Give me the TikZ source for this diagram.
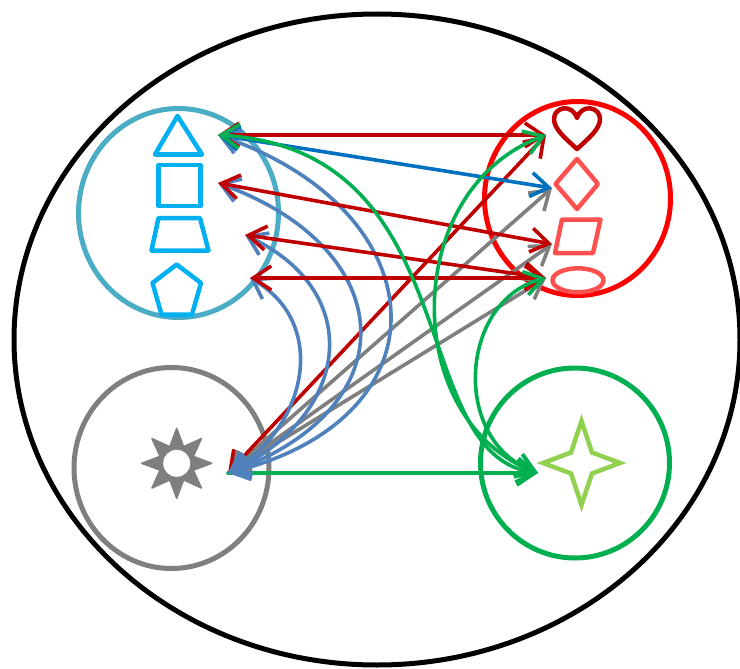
\documentclass[tikz,border=0pt]{standalone}
\usetikzlibrary{arrows.meta}
\definecolor{cBlueCirc}{HTML}{4BACC6}
\definecolor{cBlueShape}{HTML}{00B0F0}
\definecolor{cRedCirc}{HTML}{FF0000}
\definecolor{cDarkRed}{HTML}{C00000}
\definecolor{cPink}{HTML}{FF5050}
\definecolor{cGray}{HTML}{7F7F7F}
\definecolor{cGreen}{HTML}{00B050}
\definecolor{cLime}{HTML}{92D050}
\definecolor{cBlueArr}{HTML}{0070C0}
\definecolor{cSteel}{HTML}{4F81BD}
\tikzset{
  ring/.style={line width=5pt},
  shp/.style={line width=4.5pt, line join=round},
  tipshape/.tip={Straight Barb[length=18pt,width=24pt]},
  arr/.style={line width=3.6pt, line cap=round, tipshape-tipshape},
  arrone/.style={line width=3.6pt, line cap=round, -tipshape},
}
\begin{document}
\begin{tikzpicture}[x=1pt,y=-1pt]
\useasboundingbox (0,0) rectangle (740,669);
\fill[white] (0,0) rectangle (740,669);
% outer ellipse
\draw[line width=5pt] (377,339.5) ellipse [x radius=363pt, y radius=325.5pt];
% group circles
\draw[ring,cBlueCirc] (178.5,213) ellipse [x radius=100pt, y radius=104.5pt];
\draw[ring,cRedCirc] (577.5,198.5) ellipse [x radius=93pt, y radius=97pt];
\draw[ring,cGray] (171.5,468) ellipse [x radius=97.5pt, y radius=100.5pt];
\draw[ring,cGreen] (575,463) ellipse [x radius=94.5pt, y radius=95pt];
% blue shapes
\draw[shp,cBlueShape] (177.5,116) -- (202,154.5) -- (155,154.5) -- cycle;
\draw[shp,cBlueShape] (158.5,165) rectangle (200.5,206);
\draw[shp,cBlueShape] (158.5,218) -- (200,218) -- (208.5,250.5) -- (151.5,250.5) -- cycle;
\draw[shp,cBlueShape] (176.7,264.5) -- (201,283) -- (192,314.5) -- (161.5,314.5) -- (152.5,283) -- cycle;
% red shapes
\draw[shp,cDarkRed] (577,149) .. controls (565,138) and (554,129) .. (554,119)
  .. controls (554,107) and (572,103) .. (577,118)
  .. controls (582,103) and (600,107) .. (600,119)
  .. controls (600,129) and (589,138) .. (577,149) -- cycle;
\draw[shp,cPink] (577,159) -- (598,184) -- (577,209) -- (555.5,184) -- cycle;
\draw[shp,cPink] (562,219.5) -- (600.5,219.5) -- (593,253) -- (555,253) -- cycle;
\draw[shp,cPink] (578,280.3) ellipse [x radius=25.5pt, y radius=12pt];
% sun
\begin{scope}[shift={(176.7,463.3)}]
\filldraw[cGray, line width=1.5pt, line join=round]
  (0:35) -- (22.5:18) -- (45:35) -- (67.5:18) -- (90:35) -- (112.5:18) -- (135:35) -- (157.5:18)
  -- (180:35) -- (202.5:18) -- (225:35) -- (247.5:18) -- (270:35) -- (292.5:18) -- (315:35) -- (337.5:18) -- cycle;
\fill[white] (0,0) circle [radius=13.5pt];
\end{scope}
% four-point star
\draw[line width=4.5pt,cLime,miter limit=10] (581.5,421) -- (592,452.5) -- (620,463) -- (592,473.5)
  -- (581.5,505) -- (571,473.5) -- (543,463) -- (571,452.5) -- cycle;
% endpoints
\coordinate (A1) at (218,135);
\coordinate (A2) at (218,183);
\coordinate (A3) at (245,235);
\coordinate (A4) at (250,278);
\coordinate (B1) at (546,135);
\coordinate (B2) at (552,188);
\coordinate (B3) at (552,244);
\coordinate (B4) at (546,278);
\coordinate (S) at (228,473);
\coordinate (G) at (538,473);
% gray lines
\draw[arr,cGray] (S) -- (B2);
\draw[arr,cGray] (S) -- (B3);
\draw[arr,cGray] (S) -- (B4);
% red S-B1
\draw[arr,cDarkRed] (S) -- (B1);
% green S-G
\draw[arrone,cGreen] (S) -- (G);
% steel blue curves
\draw[arr,cSteel] (S) .. controls (453,417) and (437.5,210.6) .. (A1);
\draw[arr,cSteel] (S) .. controls (410,407) and (400,249) .. (A2);
\draw[arr,cSteel] (S) .. controls (350,416) and (367,292) .. (A3);
\draw[arr,cSteel] (S) .. controls (307,427.5) and (329,323.5) .. (A4);
% red A-B
\draw[arr,cDarkRed] (A1) -- (B1);
\draw[arr,cDarkRed] (A2) -- (B3);
\draw[arr,cDarkRed] (A3) -- (B4);
\draw[arr,cDarkRed] (A4) -- (B4);
% blue A1-B2
\draw[arr,cBlueArr] (A1) -- (B2);
% green curves
\draw[arr,cGreen] (A1) .. controls (470,150) and (405,455) .. (G);
\draw[arr,cGreen] (B1) .. controls (400,190) and (400,420) .. (G);
\draw[arr,cGreen] (B4) .. controls (460,300) and (450,440) .. (G);
\end{tikzpicture}
\end{document}
